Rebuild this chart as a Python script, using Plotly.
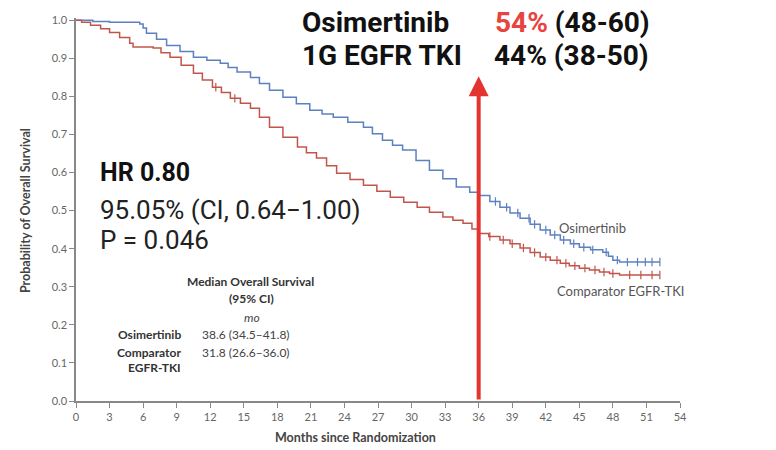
import numpy as np
import plotly.graph_objects as go

# Kaplan-Meier estimates (months, survival probability)
osi_t = [0, 1.5, 3, 5.7, 6.0, 6.3, 7.2, 8.1, 9.3, 10.5, 11.7, 12.9, 13.6, 14.4, 15.6, 16.4,
         17.3, 18.5, 19.7, 20.9, 22.0, 23.0, 24.3, 25.7, 26.5, 27.4, 28.3, 29.2, 30.4, 31.6,
         32.8, 34.0, 35.2, 36.0, 37.0, 37.9, 38.8, 39.7, 40.6, 41.5, 42.4, 43.3, 44.2, 45.0,
         46.0, 47.1, 47.6, 48.0, 48.6, 52.2]
osi_s = [1.0, 0.997, 0.995, 0.99, 0.98, 0.966, 0.95, 0.934, 0.918, 0.903, 0.895, 0.887, 0.876,
         0.864, 0.85, 0.834, 0.816, 0.798, 0.781, 0.764, 0.754, 0.745, 0.732, 0.719, 0.702,
         0.685, 0.672, 0.659, 0.632, 0.606, 0.584, 0.562, 0.548, 0.54, 0.524, 0.509, 0.494,
         0.48, 0.464, 0.449, 0.436, 0.423, 0.413, 0.404, 0.397, 0.391, 0.38, 0.37, 0.365, 0.365]

cmp_t = [0, 0.5, 1.3, 2.2, 3.0, 3.9, 4.8, 5.1, 6.9, 7.6, 8.4, 9.4, 10.5, 11.3, 12.2, 13.0, 13.8,
         14.7, 15.6, 16.4, 17.3, 18.5, 19.8, 20.6, 21.5, 22.4, 23.3, 24.5, 25.7, 26.9, 28.1,
         29.3, 30.5, 31.6, 32.8, 33.7, 34.6, 35.4, 36.0, 36.9, 37.9, 38.8, 39.7, 40.6, 41.5,
         42.4, 43.3, 44.1, 45.0, 45.9, 46.8, 47.7, 48.6, 52.2]
cmp_s = [1.0, 0.995, 0.987, 0.978, 0.968, 0.955, 0.94, 0.93, 0.927, 0.915, 0.903, 0.882, 0.861,
         0.843, 0.824, 0.81, 0.795, 0.782, 0.769, 0.745, 0.719, 0.693, 0.667, 0.652, 0.638,
         0.618, 0.598, 0.582, 0.567, 0.551, 0.535, 0.522, 0.509, 0.496, 0.483, 0.475, 0.467,
         0.452, 0.44, 0.432, 0.423, 0.413, 0.402, 0.39, 0.378, 0.37, 0.362, 0.355, 0.349,
         0.344, 0.339, 0.335, 0.331, 0.331]

# censoring times
osi_cens = [37.5, 38.5, 39.5, 40.5, 41.0, 42.0, 42.8, 43.6, 44.5, 45.4, 46.2, 47.4,
            48.4, 49.3, 50.2, 50.9, 51.5, 52.2]
cmp_cens = [12.5, 14.2, 37.0, 38.2, 39.0, 40.0, 41.0, 42.0, 43.0, 43.8, 44.6, 45.5, 46.4,
            47.2, 48.0, 49.5, 50.5, 51.5, 52.2]

x_ticks = list(range(0, 55, 3))
y_ticks = [round(v / 10, 1) for v in range(0, 11)]

BLUE = "#5d80c0"
RED = "#c2554b"
ARROW = "#e3342f"


def step_value(times, surv, t):
    idx = np.searchsorted(np.asarray(times), t, side="right") - 1
    return np.asarray(surv)[idx]


fig = go.Figure()
fig.add_trace(go.Scatter(x=osi_t, y=osi_s, mode="lines", line=dict(color=BLUE, width=1.5, shape="hv"),
                         showlegend=False, hoverinfo="skip"))
fig.add_trace(go.Scatter(x=cmp_t, y=cmp_s, mode="lines", line=dict(color=RED, width=1.5, shape="hv"),
                         showlegend=False, hoverinfo="skip"))
fig.add_trace(go.Scatter(x=osi_cens, y=[step_value(osi_t, osi_s, t) for t in osi_cens], mode="markers",
                         marker=dict(symbol="line-ns", size=6, line=dict(color=BLUE, width=1.2)),
                         showlegend=False, hoverinfo="skip"))
fig.add_trace(go.Scatter(x=cmp_cens, y=[step_value(cmp_t, cmp_s, t) for t in cmp_cens], mode="markers",
                         marker=dict(symbol="line-ns", size=6, line=dict(color=RED, width=1.2)),
                         showlegend=False, hoverinfo="skip"))

annotations = []


def add(text, x, y, font, xanchor="left", ref="x", **kw):
    annotations.append(dict(text=text, x=x, y=y, xref=ref if ref == "paper" else "x",
                            yref=ref if ref == "paper" else "y", xanchor=xanchor,
                            yanchor="middle", showarrow=False, font=font, **kw))


big_b = dict(family="Roboto, sans-serif", size=25, color="#111111")
big_r = dict(family="Roboto, sans-serif", size=26, color="#222222")
add("<b>HR 0.80</b>", 1.97, 0.601, big_b)
add("95.05% (CI, 0.64\u22121.00)", 1.97, 0.501, big_r)
add("P = 0.046", 1.97, 0.423, big_r)

# median survival table
tbl_b = dict(family="Lato, sans-serif", size=12, color="#333333")
tbl_r = dict(family="Lato, sans-serif", size=12, color="#444444")
add("<b>Median Overall Survival</b>", 15.56, 0.3126, tbl_b, xanchor="center")
add("<b>(95% CI)</b>", 15.7, 0.268, tbl_b, xanchor="center")
add("<i>mo</i>", 15.7, 0.2206, tbl_r, xanchor="center")
add("<b>Osimertinib</b>", 9.57, 0.1734, tbl_b, xanchor="right")
add("<b>Comparator</b>", 9.57, 0.1287, tbl_b, xanchor="right")
add("<b>EGFR-TKI</b>", 9.57, 0.0867, tbl_b, xanchor="right")
add("38.6 (34.5\u201341.8)", 11.09, 0.1734, tbl_r)
add("31.8 (26.6\u201336.0)", 11.09, 0.1287, tbl_r)

top = dict(family="Roboto, sans-serif", size=28, color="#111111")
add("<b>Osimertinib</b>", 20.03, 0.995, top)
add("<b>1G EGFR TKI</b>", 20.03, 0.908, top)
add("<b><span style='color:#e8433f'>54%</span> (48-60)</b>", 37.28, 0.995, top)
add("<b>44% (38-50)</b>", 37.19, 0.908, top)

add("<b>mOS: 38.6 m</b>", 62.05, 0.126,
    dict(family="Roboto, sans-serif", size=37, color="#111111"), xanchor="right")

lab = dict(family="Lato, sans-serif", size=13, color="#555555")
add("Osimertinib", 43.0, 0.454, lab)
add("Comparator EGFR-TKI", 42.83, 0.289, lab)

# axis titles
ttl = dict(family="Lato, sans-serif", size=12.5, color="#444444")
add("<b>Months since Randomization</b>", 0.462, -0.0966, ttl, xanchor="center", ref="paper")
add("<b>Probability of Overall Survival</b>", -0.0844, 0.496, ttl, xanchor="center", ref="paper",
    textangle=-90)

# arrow marking the 36-month landmark
annotations.append(dict(x=36, y=0.853, ax=36, ay=0.0, xref="x", yref="y", axref="x", ayref="y",
                        text="", showarrow=True, arrowhead=2, arrowsize=1, arrowwidth=4,
                        arrowcolor=ARROW))

fig.update_layout(
    width=776, height=450,
    margin=dict(l=76, r=96, t=18, b=49),
    plot_bgcolor="white", paper_bgcolor="white",
    annotations=annotations,
    xaxis=dict(range=[0, 54], tickvals=x_ticks, ticktext=[str(v) for v in x_ticks],
               showgrid=False, zeroline=False, showline=True, linecolor="#888888", linewidth=1.5,
               ticks="outside", ticklen=5, tickcolor="#888888",
               tickfont=dict(family="Lato, sans-serif", size=11, color="#666666")),
    yaxis=dict(range=[0, 1.006], tickvals=y_ticks, ticktext=[f"{v:.1f}" for v in y_ticks],
               showgrid=False, zeroline=False, showline=True, linecolor="#888888", linewidth=1.5,
               ticks="outside", ticklen=5, tickcolor="#888888",
               tickfont=dict(family="Lato, sans-serif", size=11, color="#666666")),
)

fig.write_html("out.html")
